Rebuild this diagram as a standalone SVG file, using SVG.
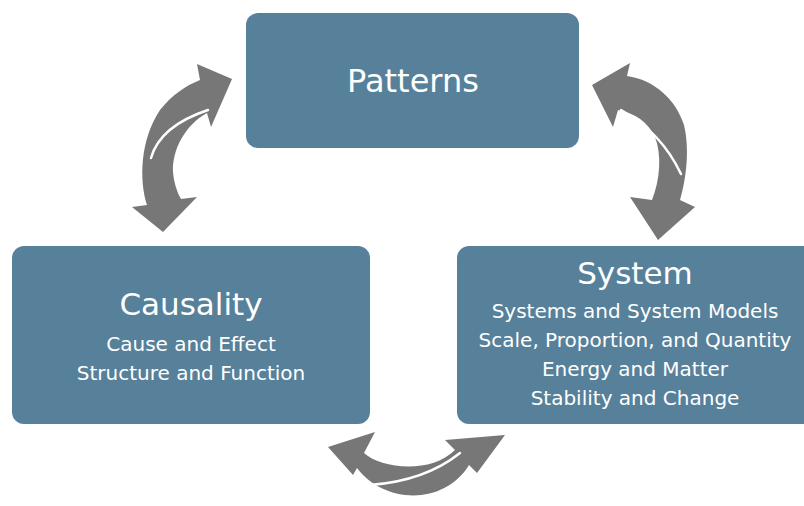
<svg xmlns="http://www.w3.org/2000/svg" width="804" height="506" viewBox="0 0 804 506">
<style>
.box{fill:#57819a}
.t{font-family:"DejaVu Sans","Liberation Sans",sans-serif;fill:#ffffff;text-anchor:middle}
.h{font-size:31px}
.s{font-size:20px}
.arrow{fill:#777777}
.split{fill:none;stroke:#ffffff;stroke-width:2.5;stroke-linecap:round}
</style>
<rect width="804" height="506" fill="#ffffff"/>
<g id="connectors">
  <g id="arrow-left">
    <path class="arrow" d="M232 79 L211 127 L207 113 C185 125 172 150 173 172 C174 183 177 192 181 199 L197 197 L163 232 L132 207 L147 205 C139 180 140 140 160 110 C172 95 185 86 200 80 L197 64 Z"/>
    <path class="split" d="M151 158 Q160 126 208 110"/>
  </g>
  <g id="arrow-right">
    <path class="arrow" d="M592 85 L630 63 L627 76 C655 80 676 100 684 125 C690 150 686 180 680 200 L695 207 L658 240 L630 197 L652 200 C660 180 662 155 655 137 C648 122 635 113 618 110 L613 127 Z"/>
    <path class="split" d="M621 110 Q661 132 681 174"/>
  </g>
  <g id="arrow-bottom">
    <path class="arrow" d="M328 447 L375 432 L364 453 C380 468 430 475 455 450 L445 440 L505 435 L477 473 L469 465 C445 505 385 505 357 468 L353 475 Z"/>
    <path class="split" d="M370 485 Q425 481 460 453"/>
  </g>
</g>
<g id="patterns">
  <rect class="box" x="246" y="13" width="333" height="135" rx="12"/>
  <text class="t" x="413" y="92" font-size="32">Patterns</text>
</g>
<g id="causality">
  <rect class="box" x="12" y="246" width="358" height="178" rx="12"/>
  <text class="t h" x="191" y="315">Causality</text>
  <text class="t s" x="191" y="351">Cause and Effect</text>
  <text class="t s" x="191" y="380">Structure and Function</text>
</g>
<g id="system">
  <rect class="box" x="457" y="246" width="360" height="178" rx="12"/>
  <text class="t h" x="635" y="284">System</text>
  <text class="t s" x="635" y="318">Systems and System Models</text>
  <text class="t s" x="635" y="347">Scale, Proportion, and Quantity</text>
  <text class="t s" x="635" y="376">Energy and Matter</text>
  <text class="t s" x="635" y="405">Stability and Change</text>
</g>
</svg>
